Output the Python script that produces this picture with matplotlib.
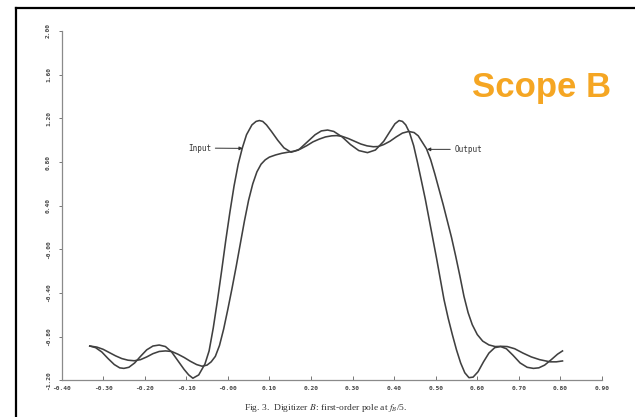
import matplotlib
matplotlib.use("Agg")
import matplotlib.pyplot as plt
from matplotlib.lines import Line2D

# ---------------- data ----------------
input_x = [-0.332, -0.318, -0.303, -0.288, -0.273, -0.260, -0.250, -0.238, -0.224, -0.210,
           -0.195, -0.180, -0.165, -0.150, -0.135, -0.120, -0.105, -0.094, -0.084, -0.070,
           -0.055, -0.045, -0.035, -0.025, -0.015, -0.005, 0.005, 0.015, 0.025, 0.035,
           0.045, 0.058, 0.068, 0.076, 0.084, 0.093, 0.105, 0.120, 0.135, 0.152, 0.170, 0.190,
           0.210, 0.225, 0.240, 0.255, 0.275, 0.295, 0.315, 0.336, 0.355, 0.375,
           0.390, 0.402, 0.412, 0.420, 0.428, 0.437, 0.447, 0.456, 0.465, 0.475, 0.484,
           0.493, 0.502, 0.511, 0.520, 0.530, 0.540, 0.550, 0.560, 0.570, 0.580,
           0.590, 0.602, 0.615, 0.628, 0.642, 0.656, 0.670, 0.686, 0.703, 0.720,
           0.735, 0.748, 0.762, 0.778, 0.793, 0.805]
input_y = [-0.885, -0.900, -0.940, -1.000, -1.055, -1.085, -1.090, -1.080, -1.040, -0.980,
           -0.920, -0.885, -0.876, -0.890, -0.940, -1.020, -1.100, -1.150, -1.180, -1.150,
           -1.050, -0.930, -0.720, -0.470, -0.200, 0.080, 0.340, 0.580, 0.780, 0.930,
           1.050, 1.140, 1.172, 1.180, 1.172, 1.140, 1.080, 1.000, 0.930, 0.890, 0.910, 0.980,
           1.050, 1.085, 1.093, 1.080, 1.030, 0.960, 0.905, 0.886, 0.910, 0.990,
           1.080, 1.150, 1.180, 1.172, 1.140, 1.070, 0.950, 0.800, 0.640, 0.460, 0.280,
           0.100, -0.080, -0.270, -0.460, -0.630, -0.780, -0.920, -1.040, -1.130, -1.175,
           -1.170, -1.120, -1.030, -0.950, -0.900, -0.890, -0.910, -0.970, -1.040, -1.080,
           -1.090, -1.085, -1.060, -1.010, -0.960, -0.930]

output_x = [-0.332, -0.315, -0.300, -0.285, -0.270, -0.255, -0.240, -0.225, -0.210, -0.195,
            -0.180, -0.165, -0.150, -0.135, -0.120, -0.105, -0.090, -0.075, -0.062, -0.050,
            -0.040, -0.030, -0.020, -0.010, 0.000, 0.010, 0.020, 0.030, 0.040, 0.050,
            0.060, 0.070, 0.080, 0.090, 0.100, 0.115, 0.130, 0.145, 0.160, 0.175,
            0.190, 0.205, 0.220, 0.235, 0.250, 0.262, 0.275, 0.290, 0.305, 0.320,
            0.335, 0.350, 0.362, 0.375, 0.390, 0.405, 0.420, 0.435, 0.448, 0.458,
            0.468, 0.478, 0.488, 0.498, 0.508, 0.518, 0.528, 0.538, 0.548, 0.558,
            0.568, 0.578, 0.588, 0.600, 0.613, 0.628, 0.643, 0.658, 0.672, 0.690,
            0.710, 0.730, 0.750, 0.775, 0.790, 0.805]
output_y = [-0.885, -0.895, -0.915, -0.945, -0.975, -1.000, -1.015, -1.020, -1.010, -0.985,
            -0.955, -0.935, -0.930, -0.935, -0.960, -0.990, -1.025, -1.055, -1.070, -1.060,
            -1.030, -0.980, -0.880, -0.730, -0.550, -0.360, -0.160, 0.050, 0.260, 0.450,
            0.600, 0.710, 0.780, 0.820, 0.845, 0.865, 0.880, 0.890, 0.900, 0.920,
            0.950, 0.985, 1.010, 1.030, 1.040, 1.042, 1.035, 1.015, 0.990, 0.965,
            0.948, 0.940, 0.942, 0.960, 0.990, 1.030, 1.065, 1.080, 1.070, 1.040,
            0.980, 0.920, 0.820, 0.690, 0.550, 0.410, 0.260, 0.110, -0.060, -0.240,
            -0.430, -0.580, -0.690, -0.780, -0.840, -0.875, -0.890, -0.888, -0.890, -0.910,
            -0.950, -0.985, -1.010, -1.030, -1.030, -1.022]

x_ticks = [-0.40, -0.30, -0.20, -0.10, 0.00, 0.10, 0.20, 0.30, 0.40, 0.50, 0.60, 0.70, 0.80, 0.90]
x_tick_labels = ["-0.40", "-0.30", "-0.20", "-0.10", "-0.00", "0.10", "0.20", "0.30",
                 "0.40", "0.50", "0.60", "0.70", "0.80", "0.90"]
y_ticks = [-1.20, -0.80, -0.40, 0.00, 0.40, 0.80, 1.20, 1.60, 2.00]
y_tick_labels = ["-1.20", "-0.80", "-0.40", "-0.00", "0.40", "0.80", "1.20", "1.60", "2.00"]

# ---------------- figure ----------------
W, H = 635, 417
fig = plt.figure(figsize=(W / 100, H / 100), dpi=100)
fig.patch.set_facecolor("white")

ax = fig.add_axes([61.5 / W, 1 - 380.4 / H, (602 - 61.5) / W, (380.4 - 31) / H])
ax.set_xlim(-0.40, 0.90)
ax.set_ylim(-1.20, 2.00)

line_color = "#404040"
ax.plot(input_x, input_y, color=line_color, lw=1.15, solid_joinstyle="round")
ax.plot(output_x, output_y, color=line_color, lw=1.15, solid_joinstyle="round")

for s in ["top", "right"]:
    ax.spines[s].set_visible(False)
for s in ["left", "bottom"]:
    ax.spines[s].set_color("#8a8a8a")
    ax.spines[s].set_linewidth(0.9)

mono = "DejaVu Sans Mono"
ax.set_xticks(x_ticks)
ax.set_xticklabels(x_tick_labels, fontsize=4.5, family=mono, color="#444444", fontweight="bold")
ax.set_yticks(y_ticks)
ax.set_yticklabels(y_tick_labels, fontsize=4.5, family=mono, color="#444444", fontweight="bold",
                   rotation=90, va="center")
ax.tick_params(axis="x", direction="in", length=3, width=0.7, color="#777777", pad=4)
ax.tick_params(axis="y", direction="out", length=2.5, width=0.7, color="#777777", pad=5)

# annotations
ax.annotate("Input", xy=(0.036, 0.925), xytext=(-0.040, 0.928),
            ha="right", va="center", fontsize=5.5, family=mono, color="#333333",
            arrowprops=dict(arrowstyle="-|>", lw=0.7, color="#333333",
                            mutation_scale=5, shrinkA=1, shrinkB=0))
ax.annotate("Output", xy=(0.479, 0.916), xytext=(0.545, 0.916),
            ha="left", va="center", fontsize=5.5, family=mono, color="#333333",
            arrowprops=dict(arrowstyle="-|>", lw=0.7, color="#333333",
                            mutation_scale=5, shrinkA=1, shrinkB=0))

# caption
plt.rcParams["mathtext.fontset"] = "stix"
fig.text(326 / W, 1 - 408 / H, r"Fig. 3.  Digitizer $B$: first-order pole at $f_B$/5.",
         ha="center", va="center", fontsize=6.8, family="Liberation Serif", color="#333333")

# overlay label
fig.text(472 / W, 1 - 97 / H, "Scope B", ha="left", va="baseline", fontsize=25,
         family="Liberation Sans", fontweight="bold", color="#F5A623")

# frame of the slide
fig.add_artist(Line2D([15.5 / W, 15.5 / W], [0, 1 - 7.5 / H], transform=fig.transFigure,
                      color="black", lw=1.6))
fig.add_artist(Line2D([15.5 / W, 1.0], [1 - 7.5 / H, 1 - 7.5 / H], transform=fig.transFigure,
                      color="black", lw=1.6))

fig.savefig("out.png", dpi=100, facecolor="white")
